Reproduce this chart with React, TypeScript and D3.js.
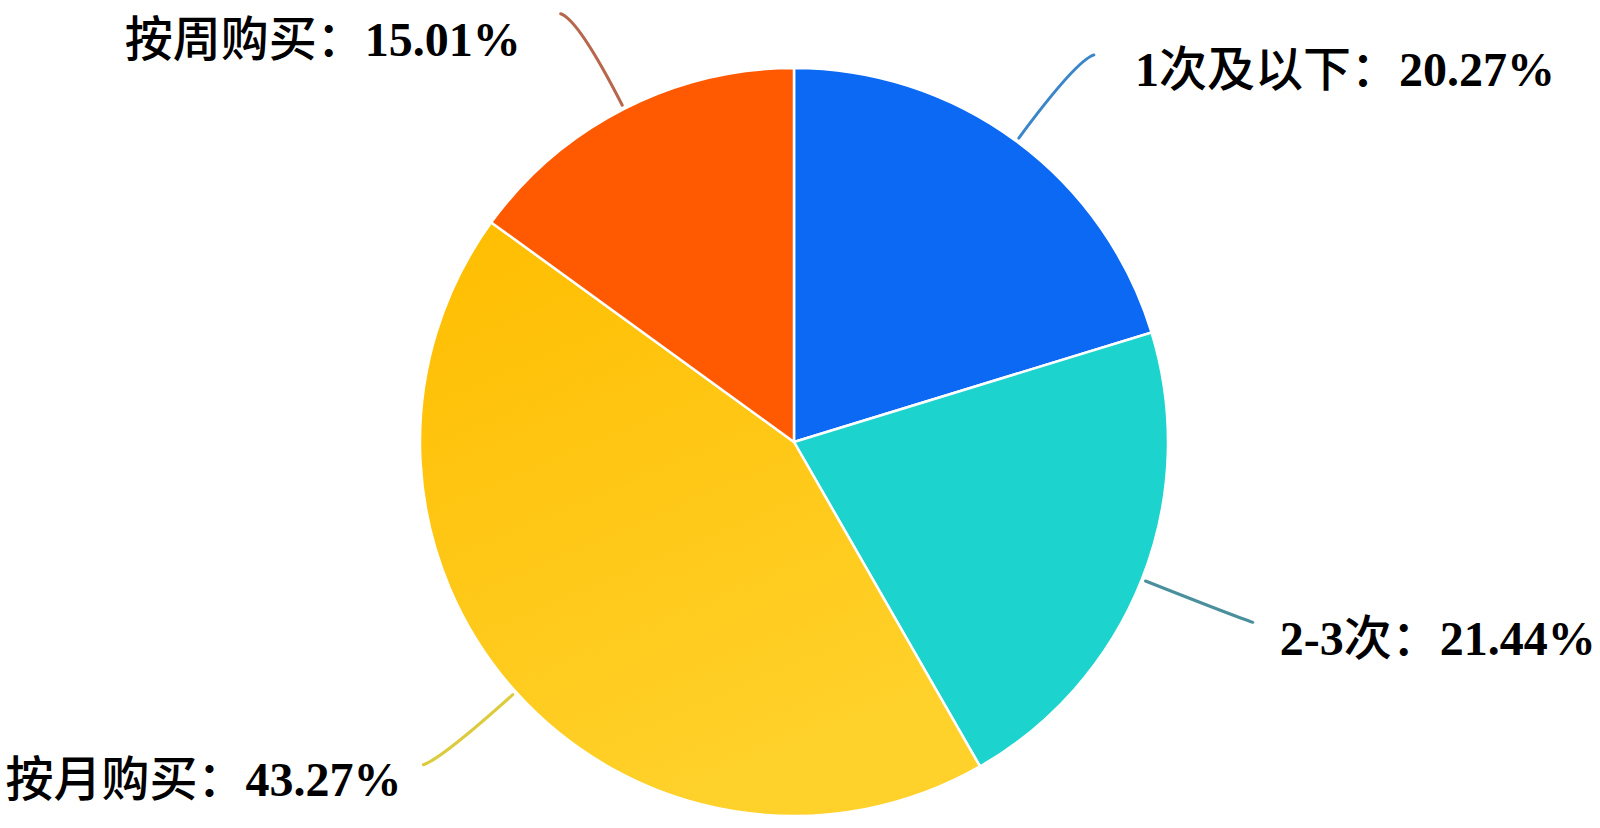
import React, { useEffect, useRef } from "react"
import * as d3 from "d3"

// purchase frequency shares, clockwise from 12 o'clock
const categories = ["1次及以下", "2-3次", "按月购买", "按周购买"]
const shares = [20.27, 21.44, 43.27, 15.01]
const sliceColors = ["#0b69f4", "#1dd3cd", "#ffc40c", "#ff5a02"]
const leaderColors = ["#3b86c9", "#4a8f9c", "#dccb3c", "#b7674c"]

const W = 1600
const H = 828

export default function App() {
  const ref = useRef<SVGSVGElement>(null)

  useEffect(() => {
    const svg = d3.select(ref.current)
    svg.selectAll("*").remove()

    const cx = 794
    const cy = 442
    const r = 374

    const defs = svg.append("defs")
    const grad = defs.append("linearGradient")
      .attr("id", "yel")
      .attr("x1", "0").attr("y1", "0").attr("x2", "0.4").attr("y2", "1")
    grad.append("stop").attr("offset", "0%").attr("stop-color", "#ffbd00")
    grad.append("stop").attr("offset", "100%").attr("stop-color", "#ffd12a")

    const pie = d3.pie<number>().sort(null).value(d => d)
    const arcs = pie(shares)
    const arc = d3.arc<d3.PieArcDatum<number>>().innerRadius(0).outerRadius(r)

    const g = svg.append("g").attr("transform", `translate(${cx},${cy})`)

    g.selectAll("path.slice")
      .data(arcs)
      .enter()
      .append("path")
      .attr("class", "slice")
      .attr("d", arc)
      .attr("fill", (d, i) => (i === 2 ? "url(#yel)" : sliceColors[i]))
      .attr("stroke", "#fff")
      .attr("stroke-width", 2.5)
      .attr("stroke-linejoin", "round")

    const polar = (a: number, rr: number): [number, number] => [Math.sin(a) * rr, -Math.cos(a) * rr]

    // label layout: side of the pie, and text nudge from the leader end (dx, baseline dy)
    const side = [1, 1, -1, -1]
    const textShift = [[41, 31], [27, 33], [-22, 31], [-40, 42]]

    arcs.forEach((d, i) => {
      const mid = (d.startAngle + d.endAngle) / 2
      const p0 = polar(mid, r + 4)
      const p1 = polar(mid, r + 100)
      const p2: [number, number] = [p1[0] + side[i] * 18, p1[1] + (p1[1] > 0 ? 6 : -6)]
      const path = d3.path()
      path.moveTo(p0[0], p0[1])
      path.quadraticCurveTo(p1[0], p1[1], p2[0], p2[1])
      g.append("path")
        .attr("d", path.toString())
        .attr("fill", "none")
        .attr("stroke", leaderColors[i])
        .attr("stroke-width", 3)
        .attr("stroke-linecap", "round")

      const t = g.append("text")
        .attr("x", p2[0] + textShift[i][0])
        .attr("y", p2[1] + textShift[i][1])
        .attr("text-anchor", side[i] > 0 ? "start" : "end")
        .attr("font-family", "'Liberation Serif', 'Noto Sans CJK SC', serif")
        .attr("font-size", 48)
        .attr("fill", "#000")

      // category text: digits serif bold, CJK medium
      const parts = categories[i].split(/([0-9\-]+)/).filter(s => s.length)
      parts.forEach(p => {
        const isNum = /^[0-9\-]+$/.test(p)
        t.append("tspan")
          .attr("font-family", isNum ? "'Liberation Serif', serif" : "'Noto Sans CJK SC', sans-serif")
          .attr("font-weight", isNum ? 700 : 500)
          .text(p)
      })
      t.append("tspan")
        .attr("font-family", "'Noto Sans CJK SC', sans-serif")
        .attr("font-weight", 500)
        .text("：")
      t.append("tspan")
        .attr("font-family", "'Liberation Serif', serif")
        .attr("font-weight", 700)
        .text(`${shares[i].toFixed(2)}%`)
    })
  }, [])

  return (
    <svg
      ref={ref}
      width={W}
      height={H}
      style={{ position: "absolute", left: 0, top: 0, background: "#fff" }}
    />
  )
}
